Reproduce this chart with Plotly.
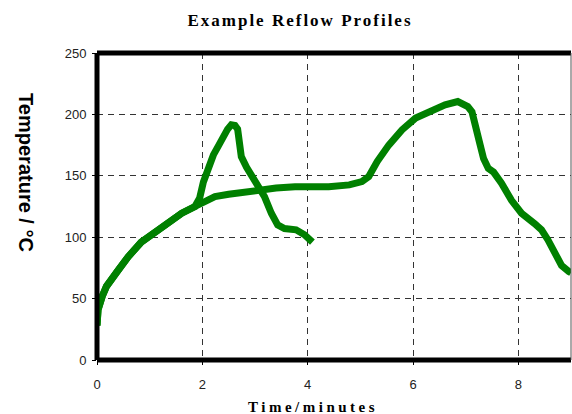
import plotly.graph_objects as go

# Profile 1 (long reflow profile)
long_time = [0, 0.02, 0.1, 0.18, 0.4, 0.59, 0.84, 1.1, 1.35, 1.61, 1.86, 2.05, 2.24,
             2.5, 2.82, 3.12, 3.4, 3.76, 4.1, 4.4, 4.79, 5.03, 5.16, 5.32, 5.54, 5.79,
             6.05, 6.36, 6.61, 6.85, 6.95, 7.04, 7.12, 7.2, 7.27, 7.34, 7.43, 7.53,
             7.68, 7.87, 8.06, 8.31, 8.44, 8.56, 8.72, 8.82, 8.96, 9.0]
long_temp = [28, 41, 52, 60, 73, 84, 96, 104.5, 112.5, 119.5, 125, 129, 133,
             135, 137, 139, 140, 141, 141, 141, 142.6, 145.3, 149.4, 161.6, 175, 187.4,
             197, 203.7, 207.8, 210.5, 209, 206.4, 202, 185, 176, 164, 156, 153,
             144, 130, 119.5, 111, 106, 98, 84, 77, 72, 71]

# Profile 2 (short reflow profile)
short_time = [0, 0.02, 0.1, 0.18, 0.4, 0.59, 0.84, 1.1, 1.35, 1.61, 1.86, 1.95, 2.02,
              2.1, 2.21, 2.3, 2.4, 2.48, 2.55, 2.62, 2.67, 2.7, 2.74, 2.84, 2.95, 3.06,
              3.18, 3.31, 3.43, 3.56, 3.78, 3.94, 4.09]
short_temp = [28, 41, 52, 60, 73, 84, 96, 104.5, 112.5, 119.5, 125, 132, 145,
              155, 167, 174, 183, 188, 191.5, 191, 188, 176, 165.6, 157, 150, 143,
              133, 119.5, 110, 107, 106, 102, 96]

x_ticks = [0, 2, 4, 6, 8]
y_ticks = [0, 50, 100, 150, 200, 250]

GREEN = "#008000"

fig = go.Figure()
for xs, ys in [(long_time, long_temp), (short_time, short_temp)]:
    fig.add_trace(go.Scatter(x=xs, y=ys, mode="lines",
                             line=dict(color=GREEN, width=7),
                             showlegend=False, hoverinfo="skip"))

grid_dash = "6px,5px"
fig.update_xaxes(range=[0, 9], tickvals=x_ticks, ticktext=[str(v) for v in x_ticks],
                 showgrid=True, gridcolor="#333", gridwidth=1, griddash=grid_dash,
                 zeroline=False, showline=False, ticks="outside", ticklen=4,
                 tickcolor="black", ticklabelstandoff=8,
                 tickfont=dict(family="Liberation Sans, Arial", size=13, color="#222"))
fig.update_yaxes(range=[0, 250], tickvals=y_ticks, ticktext=[str(v) for v in y_ticks],
                 showgrid=True, gridcolor="#333", gridwidth=1, griddash=grid_dash,
                 zeroline=False, showline=False, ticks="outside", ticklen=4,
                 tickcolor="black", ticklabelstandoff=3,
                 tickfont=dict(family="Liberation Sans, Arial", size=13, color="#222"))

# frame: thick left/top/bottom, thin right
for (x0, y0, x1, y1, w, c) in [(0, 0, 0, 1, 5, "black"), (0, 1, 1, 1, 5, "black"),
                                (0, 0, 1, 0, 5, "black"), (1, 0, 1, 1, 1, "#555")]:
    fig.add_shape(type="line", xref="paper", yref="paper", x0=x0, y0=y0, x1=x1, y1=y1,
                  line=dict(color=c, width=w))

fig.add_annotation(text="<b>Temperature / °C</b>", xref="paper", yref="paper",
                   x=0, y=0.612, xshift=-71, xanchor="center", yanchor="middle",
                   textangle=90, showarrow=False,
                   font=dict(family="Liberation Sans, Arial", size=20, color="black"))
fig.add_annotation(text='<span style="letter-spacing:3.5px"><b>Time/minutes</b></span>',
                   xref="paper", yref="paper",
                   x=0.456, y=0, yshift=-47, xanchor="center", yanchor="middle",
                   showarrow=False,
                   font=dict(family="Liberation Serif, Times New Roman", size=15, color="black"))

fig.update_layout(
    width=572, height=414,
    margin=dict(l=97, r=1, t=53, b=54),
    paper_bgcolor="white", plot_bgcolor="white",
    title=dict(text='<span style="letter-spacing:2px"><b>Example Reflow Profiles</b></span>',
               x=300 / 572, xanchor="center",
               y=1 - 20 / 414, yanchor="middle",
               font=dict(family="Liberation Serif, Times New Roman", size=17, color="black")),
)

fig.write_html("out.html", config={"displayModeBar": False},
               post_script="document.body.style.margin='0';")
